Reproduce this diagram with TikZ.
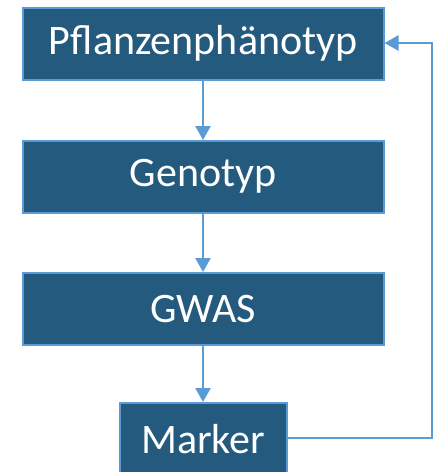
\documentclass[tikz,border=0pt]{standalone}
\usepackage{fontspec}
\setmainfont{Carlito}
\usetikzlibrary{arrows.meta}
\definecolor{boxfill}{HTML}{235A7D}
\definecolor{edgeblue}{HTML}{5B9BD5}
\begin{document}
\begin{tikzpicture}[x=1pt,y=-1pt,
  blk/.style={draw=edgeblue,line width=1.5pt,fill=boxfill,text=white,
    font=\fontsize{42}{46}\selectfont,inner sep=0pt,anchor=north west},
  conn/.style={draw=edgeblue,line width=2.5pt,-{Triangle[width=15pt,length=14pt]}}]
\useasboundingbox (0,0) rectangle (436,472);
\clip (0,0) rectangle (436,472);
\node[blk,minimum width=361pt,minimum height=72pt] (p) at (22,7) {Pflanzenphänotyp};
\node[blk,minimum width=361pt,minimum height=72pt] (g) at (22,140) {Genotyp};
\node[blk,minimum width=361pt,minimum height=72pt] (w) at (22,272) {GWAS};
\node[blk,minimum width=167pt,minimum height=72pt] (m) at (119,402) {Marker};
\coordinate (c1) at (432,438);
\coordinate (c2) at (432,43);
\draw[conn] (p.south -| 203,0) -- (g.north -| 203,0);
\draw[conn] (g.south -| 203,0) -- (w.north -| 203,0);
\draw[conn] (w.south -| 203,0) -- (m.north -| 203,0);
\draw[conn] (m.east |- c1) -- (c1) -- (c2) -- (c2 -| p.east);
\end{tikzpicture}
\end{document}
